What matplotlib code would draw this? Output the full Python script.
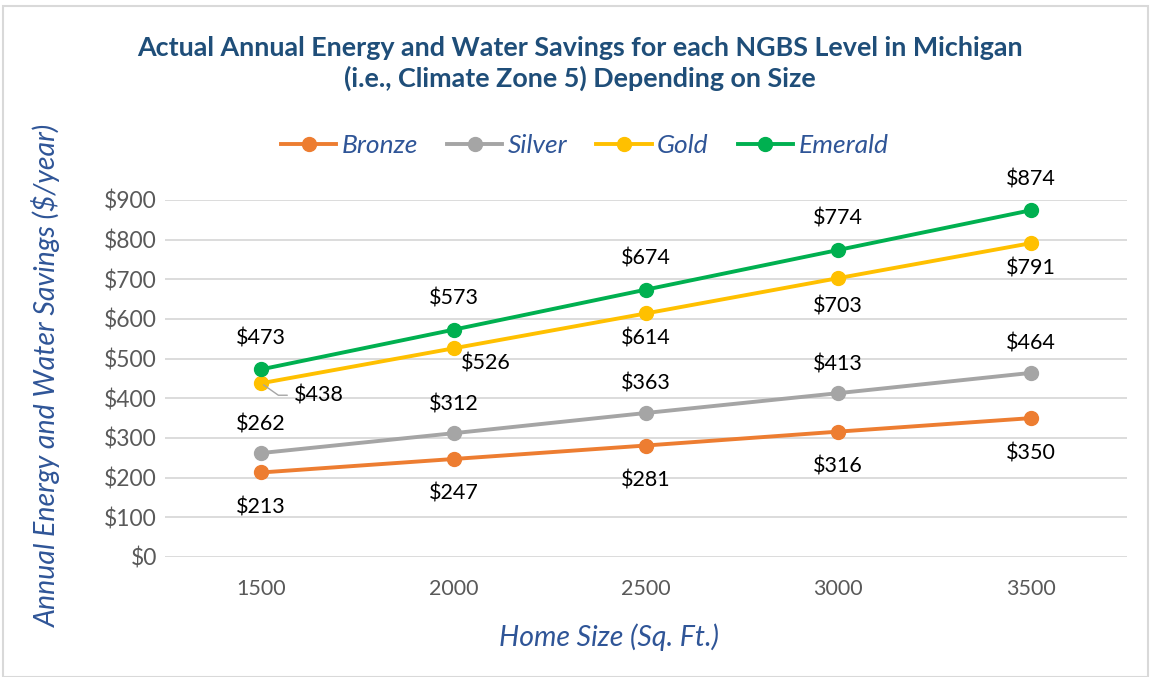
import matplotlib
matplotlib.use("Agg")
import matplotlib.pyplot as plt
from matplotlib.patches import Rectangle

sizes = ["1500", "2000", "2500", "3000", "3500"]
bronze = [213, 247, 281, 316, 350]
silver = [262, 312, 363, 413, 464]
gold = [438, 526, 614, 703, 791]
emerald = [473, 573, 674, 774, 874]

series = [
    ("Bronze", bronze, "#ED7D31"),
    ("Silver", silver, "#A5A5A5"),
    ("Gold", gold, "#FFC000"),
    ("Emerald", emerald, "#00B050"),
]

# label offsets in pixels (dx, dy) for each point, as Excel placed them
px = 0.72
label_offsets = {
    "Bronze": [(0, -35)] * 5,
    "Silver": [(0, 29)] * 5,
    "Gold": [None, (32, -15), (0, -25), (0, -28), (0, -25)],
    "Emerald": [(0, 31)] * 5,
}

plt.rcParams["font.family"] = ["Lato", "DejaVu Sans"]

fig = plt.figure(figsize=(11.51, 6.77), dpi=100)
fig.patches.append(Rectangle((0.003, 0.0), 0.994, 0.991, transform=fig.transFigure,
                             fill=False, edgecolor="#D9D9D9", linewidth=1.5))
ax = fig.add_axes([0.1434, 0.1773, 0.8356, 0.5273])

x = list(range(len(sizes)))
for name, vals, color in series:
    ax.plot(x, vals, color=color, linewidth=2.8, marker="o", markersize=10,
            label=name, zorder=3)
    for i, v in enumerate(vals):
        off = label_offsets[name][i]
        if off is None:
            continue
        ax.annotate(f"${v}", (i, v), xytext=(off[0] * px, off[1] * px),
                    textcoords="offset points", ha="center", va="center",
                    fontsize=15.5, color="black")

# $438 label sits to the right with a leader line
ax.annotate(f"${gold[0]}", (0, gold[0]), xytext=(33 * px, -12 * px),
            textcoords="offset points", ha="left", va="center",
            fontsize=15.5, color="black",
            arrowprops=dict(arrowstyle="-", color="#A5A5A5", lw=1, relpos=(0, 0.5),
                            connectionstyle="angle,angleA=0,angleB=-35,rad=0",
                            shrinkA=3, shrinkB=2))

ax.set_xlim(-0.5, len(sizes) - 0.5)
ax.set_ylim(0, 900)
ax.set_yticks(range(0, 901, 100))
ax.set_yticklabels([f"${t}" for t in range(0, 901, 100)])
ax.set_xticks(x)
ax.set_xticklabels(sizes)
ax.tick_params(axis="both", length=0, labelcolor="#595959")
ax.tick_params(axis="x", pad=16, labelsize=15.5)
ax.tick_params(axis="y", pad=6, labelsize=16.5)
ax.grid(axis="y", color="#D9D9D9", linewidth=1.3)
ax.set_axisbelow(True)
for s in ax.spines.values():
    s.set_visible(False)

fig.text(0.529, 0.059, "Home Size (Sq. Ft.)", fontsize=20.5, style="italic",
         color="#2F5597", ha="center", va="center")
fig.text(0.040, 0.446, "Annual Energy and Water Savings ($/year)", rotation=90,
         fontsize=20.5, style="italic", color="#2F5597", ha="center", va="center")

fig.text(0.504, 0.906, "Actual Annual Energy and Water Savings for each NGBS Level in Michigan\n"
         "(i.e., Climate Zone 5) Depending on Size", ha="center", va="center",
         fontsize=19.4, fontweight="bold", color="#1F4E79", linespacing=1.3)

leg = fig.legend(loc="center", bbox_to_anchor=(0.508, 0.785), ncol=4, frameon=False,
                 prop={"size": 19, "style": "italic"}, handlelength=2.1,
                 columnspacing=1.1, handletextpad=0.2)
for t in leg.get_texts():
    t.set_color("#2F5597")

fig.savefig("out.png", dpi=100, facecolor="white")
